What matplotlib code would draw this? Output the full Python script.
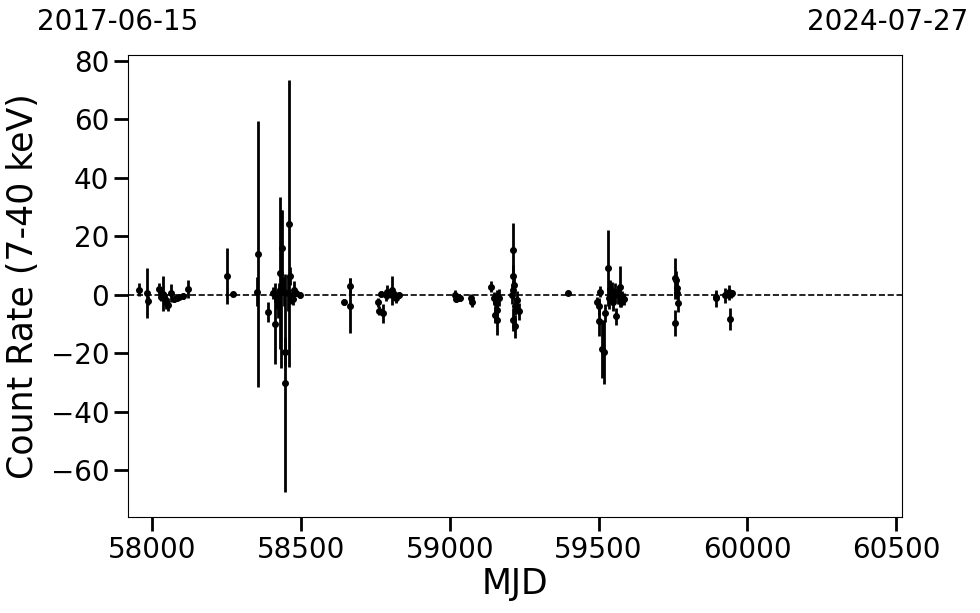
import numpy as np
import matplotlib
matplotlib.use("Agg")
import matplotlib.pyplot as plt

# light curve points (MJD, rate, 1-sigma error)
mjd = [57956, 57983, 57985, 58023, 58029, 58038, 58042, 58048, 58053, 58062,
       58075, 58083, 58092, 58103, 58122,
       58251, 58273, 58352, 58356, 58390, 58405, 58413, 58418, 58422, 58427,
       58429, 58434, 58438, 58442, 58447, 58448, 58455, 58460, 58462, 58466,
       58472, 58476, 58482, 58496,
       58644, 58664, 58666, 58758, 58762, 58770, 58775, 58785, 58790, 58800,
       58806, 58815, 58820, 58828,
       59017, 59022, 59028, 59034, 59071, 59075,
       59140, 59148, 59160, 59155, 59158, 59152, 59158, 59166,
       59211, 59213, 59215, 59212, 59210, 59226, 59219, 59232, 59214, 59220,
       59397,
       59493, 59500, 59502, 59505, 59510, 59518, 59520, 59530, 59535, 59540,
       59545, 59550, 59555, 59560, 59566, 59572, 59575, 59580, 59585,
       59756, 59758, 59760, 59762, 59764, 59766,
       59893, 59895, 59924, 59930, 59937, 59940, 59945, 59948]
rate = [1.7, 0.5, -2.0, 2.0, -0.6, 0.3, -1.5, -2.3, -3.4, 0.6,
        -1.6, -1.1, -0.6, -0.3, 2.0,
        6.4, 0.3, 1.0, 14.0, -5.8, 0.5, -9.9, -1.9, -2.8, 1.0,
        7.4, 2.0, 16.0, 1.0, -19.4, -30.2, 0.5, 24.3, 6.4, -1.0,
        -1.5, 1.7, 0.5, 0.0,
        -2.6, 3.1, -3.7, -2.6, -5.4, 0.4, -6.3, -0.2, 0.9, 0.4,
        1.5, -0.2, -1.2, 0.0,
        0.0, -1.5, -0.8, -1.2, -1.1, -2.6,
        2.8, -1.1, -0.5, -2.8, -5.1, -6.8, -8.5, -1.0,
        15.4, 6.3, 3.4, 1.7, 0.0, -1.7, -4.0, -5.7, -8.5, -10.8,
        0.6,
        -2.3, -9.1, -4.0, 1.1, -18.5, -19.6, -6.3, 9.1, -1.0, 2.0,
        0.5, -2.5, 1.0, -7.4, 0.0, 2.8, -2.3, -0.8, -1.5,
        -9.7, 5.7, 5.0, 2.3, 0.5, -2.8,
        -1.2, -0.7, -0.2, 0.3, 0.8, -8.2, 0.3, 0.6]
err = [2.2, 8.5, 1.5, 2.0, 1.5, 6.0, 2.0, 2.5, 2.3, 3.0,
       1.0, 1.0, 1.0, 1.0, 3.0,
       9.7, 0.8, 5.0, 45.4, 3.4, 2.0, 13.9, 3.0, 5.0, 3.0,
       26.0, 27.0, 13.0, 5.0, 5.0, 37.4, 6.0, 49.0, 3.0, 2.0,
       2.0, 3.0, 1.0, 1.0,
       1.0, 2.5, 9.4, 1.5, 1.5, 1.0, 3.2, 2.0, 2.5, 1.5,
       5.0, 1.5, 1.5, 1.0,
       1.5, 1.0, 1.2, 1.0, 1.5, 1.5,
       2.0, 2.0, 2.0, 2.5, 3.0, 3.0, 5.2, 3.0,
       9.0, 4.0, 3.0, 3.0, 3.0, 3.0, 3.0, 3.0, 4.0, 4.0,
       0.8,
       1.5, 5.0, 3.0, 2.0, 10.0, 11.0, 3.0, 13.0, 4.0, 3.0,
       4.0, 3.0, 3.0, 3.0, 3.0, 7.0, 2.0, 2.0, 2.0,
       4.5, 7.0, 3.0, 3.0, 2.0, 3.0,
       3.0, 1.5, 2.5, 1.5, 2.5, 3.7, 1.5, 1.0]

start_label = "2017-06-15"
end_label = "2024-07-27"
mjd_start, mjd_end = 57919, 60518

fig = plt.figure(figsize=(9.8, 6.13), dpi=100)
ax = fig.add_axes([0.1306, 0.1566, 0.7894, 0.7536])

ax.errorbar(mjd, rate, yerr=err, fmt="o", color="black", ms=4,
            elinewidth=2, capsize=0)
ax.axhline(0, color="black", ls="--", lw=1.2)

ax.set_xlim(mjd_start, mjd_end)
ax.set_ylim(-76, 82)
ax.set_xticks([58000, 58500, 59000, 59500, 60000, 60500])
ax.set_yticks([-60, -40, -20, 0, 20, 40, 60, 80])
ax.tick_params(labelsize=20, length=10, width=2)
ax.set_xlabel("MJD", fontsize=25, labelpad=2)
ax.set_ylabel("Count Rate (7-40 keV)", fontsize=25, labelpad=8)

fig.text(118 / 980, 1 - 22 / 613, start_label, fontsize=20, ha="center", va="center")
fig.text(888 / 980, 1 - 22 / 613, end_label, fontsize=20, ha="center", va="center")

fig.savefig("out.png", dpi=100)
